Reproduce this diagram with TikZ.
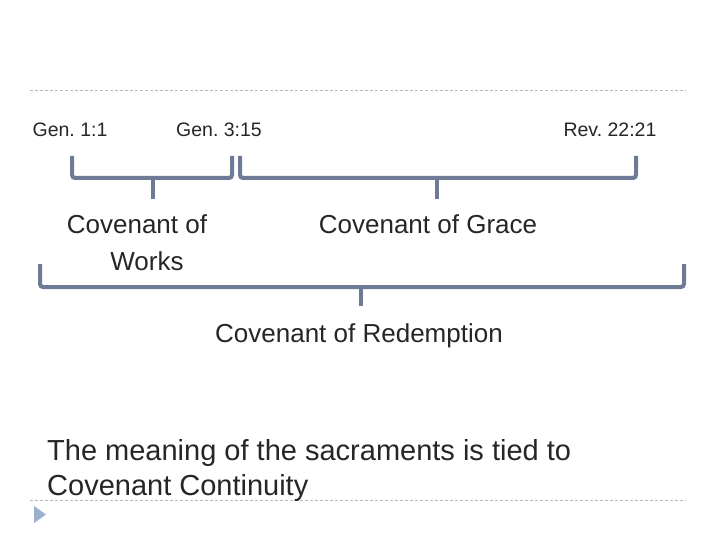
\documentclass[tikz,border=0pt]{standalone}
\usepackage{fontspec}
\setmainfont{Liberation Sans}
\frenchspacing
\begin{document}
\begin{tikzpicture}[x=1pt,y=-1pt,
  brace/.style={draw=braceblue,line width=4pt,rounded corners=3pt},
  tick/.style={draw=braceblue,line width=4pt},
  sep/.style={draw=gray!55,dashed,line width=0.6pt,dash pattern=on 3pt off 2pt},
  lbl/.style={text=txt,font=\fontsize{19.5}{22}\selectfont,inner sep=0pt},
  cov/.style={text=txt,font=\fontsize{26}{37}\selectfont,inner sep=0pt,align=center},
  body/.style={text=txt,font=\fontsize{29}{35}\selectfont,inner sep=0pt,align=left}]
\definecolor{braceblue}{HTML}{6F7A96}
\definecolor{txt}{HTML}{262626}
\definecolor{tri}{HTML}{9BB0CC}
\useasboundingbox (0,0) rectangle (720,540);
\fill[white] (0,0) rectangle (720,540);
% separators
\coordinate (s1a) at (30,90); \coordinate (s1b) at (686,90);
\coordinate (s2a) at (30,500); \coordinate (s2b) at (686,500);
\draw[sep] (s1a) -- (s1b);
\draw[sep] (s2a) -- (s2b);
\fill[tri] (34,506) -- (46,514.5) -- (34,523) -- cycle;
% labels
\node[lbl] (g1) at (70,130) {Gen. 1:1};
\node[lbl] (g3) at (219,130) {Gen. 3:15};
\node[lbl] (rv) at (610,130) {Rev. 22:21};
% braces
\draw[brace] (72,156) -- (72,178) -- (232,178) -- (232,156);
\draw[tick] (153,178) -- (153,199);
\draw[brace] (240,156) -- (240,178) -- (636,178) -- (636,156);
\draw[tick] (437,178) -- (437,199);
\draw[brace] (40,264) -- (40,287) -- (684,287) -- (684,264);
\draw[tick] (361,287) -- (361,306);
% covenant texts
\node[cov] (cw) at (137,242.5) {Covenant of\\\hspace*{20pt}Works};
\node[cov] (cg) at (428,224) {Covenant of Grace};
\node[cov] (cr) at (359,336) {Covenant of Redemption};
\node[body,anchor=west] (bd) at (47,470) {The meaning of the sacraments is tied to\\Covenant Continuity};
\end{tikzpicture}
\end{document}
